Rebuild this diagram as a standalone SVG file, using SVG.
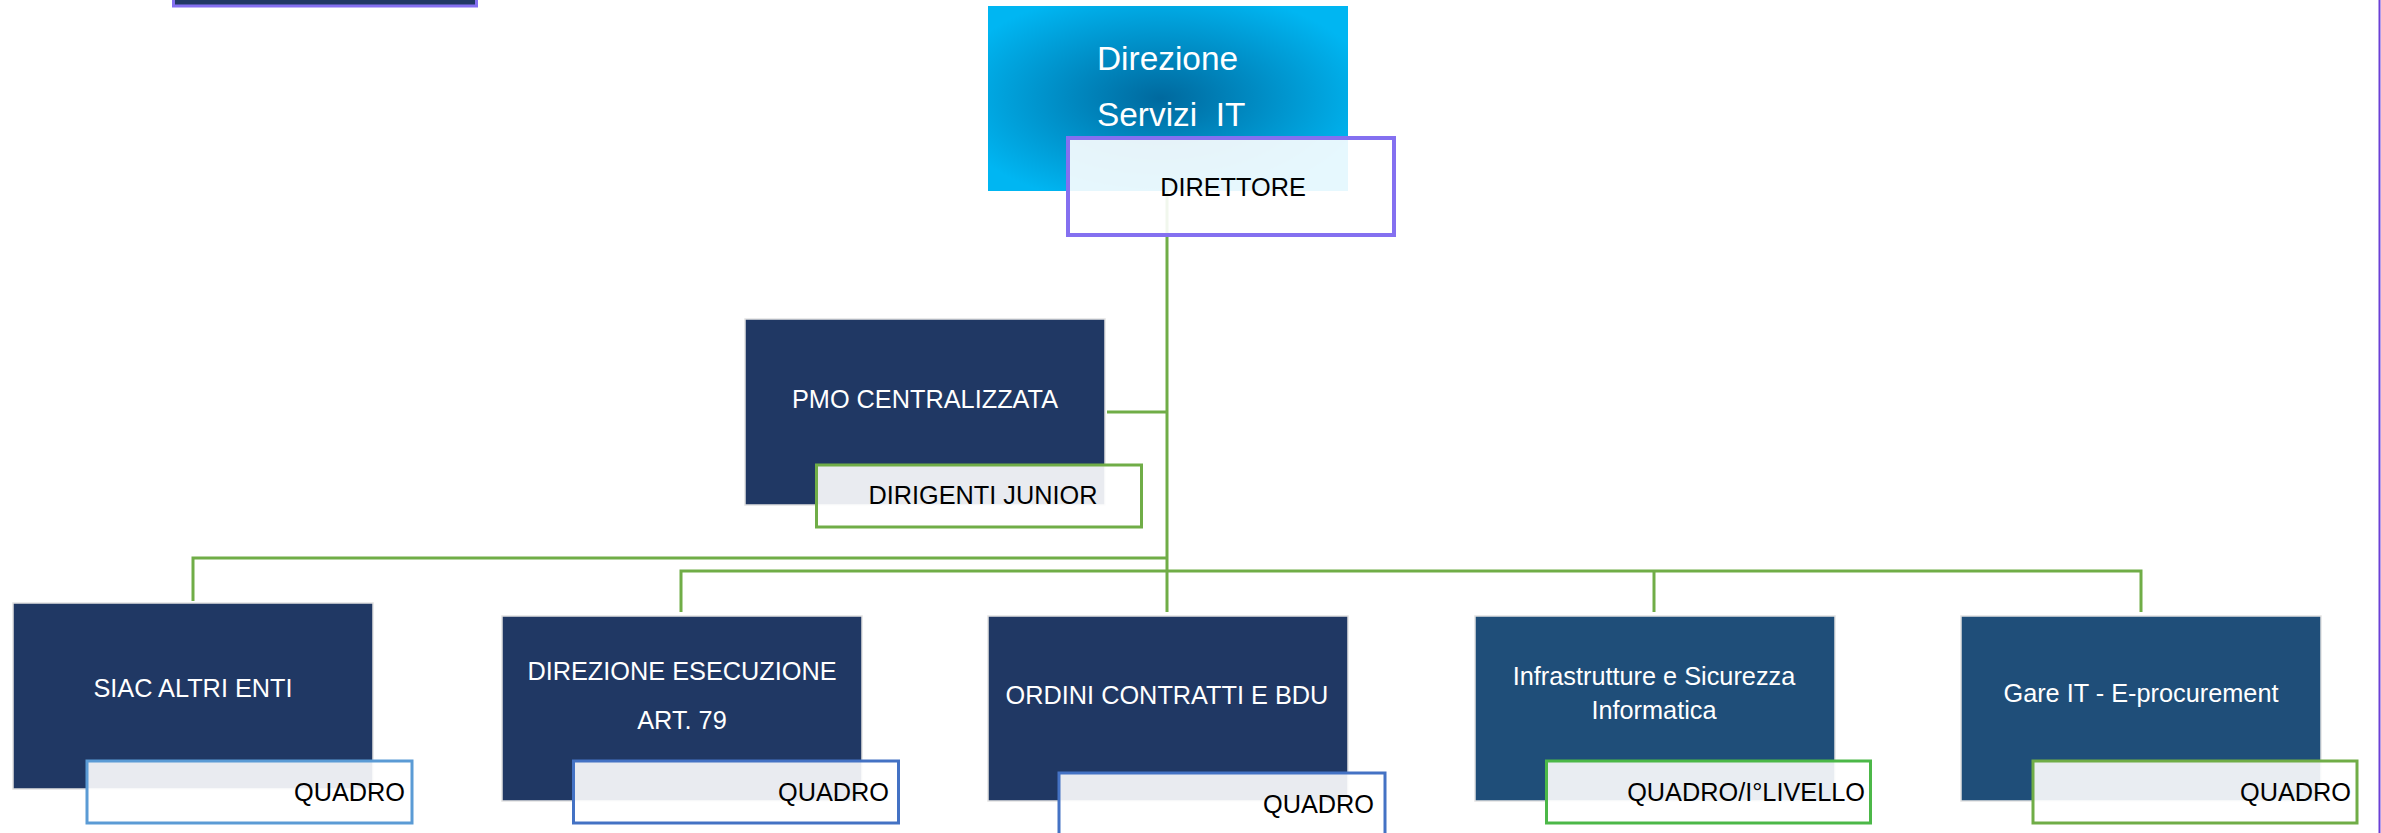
<svg xmlns="http://www.w3.org/2000/svg" width="2381" height="833" viewBox="0 0 2381 833">
<style>
text{font-family:"Liberation Sans",Arial,sans-serif;font-size:25.3px}
.w{fill:#ffffff}
.k{fill:#000000}
.navy{fill:#203864;stroke:#e2e2e2;stroke-width:1.5}
.teal{fill:#1f4e79;stroke:#e2e2e2;stroke-width:1.5}
.tag{fill:#ffffff;fill-opacity:0.9;stroke-width:3}
.conn{fill:none;stroke:#70ad47;stroke-width:3}
</style>
<defs>
<radialGradient id="bg" cx="0.48" cy="0.5" r="0.6">
<stop offset="0" stop-color="#00699e"/>
<stop offset="1" stop-color="#00b6f2"/>
</radialGradient>
</defs>
<rect width="2381" height="833" fill="#ffffff"/>
<g id="topleft">
<rect x="173.5" y="-50" width="303" height="56" fill="#203864" stroke="#8470f0" stroke-width="3"/>
</g>
<line x1="2379.5" y1="0" x2="2379.5" y2="833" stroke="#6b3fd6" stroke-width="2"/>
<g id="connectors">
<path class="conn" d="M1167,191 V612"/>
<path class="conn" d="M1107,412 H1167"/>
<path class="conn" d="M193,601 V558 H1167"/>
<path class="conn" d="M681,612 V571 H2141 V612"/>
<path class="conn" d="M1654,571 V612"/>
</g>
<g id="direzione-servizi-it">
<rect x="988" y="6" width="360" height="185" fill="url(#bg)"/>
<text class="w" x="1097" y="70" style="font-size:33.4px">Direzione</text>
<text class="w" x="1097" y="126" style="font-size:33.4px" xml:space="preserve">Servizi  IT</text>
<rect class="tag" x="1068" y="138" width="326" height="97" stroke="#8470f0" stroke-width="4" style="stroke-width:4"/>
<text class="k" x="1233" y="196" text-anchor="middle">DIRETTORE</text>
</g>
<g id="pmo">
<rect class="navy" x="745" y="319" width="360" height="186"/>
<text class="w" x="925" y="408" text-anchor="middle">PMO CENTRALIZZATA</text>
<rect class="tag" x="816.5" y="465" width="325" height="62" stroke="#70ad47"/>
<text class="k" x="983" y="504" text-anchor="middle">DIRIGENTI JUNIOR</text>
</g>
<g id="siac">
<rect class="navy" x="13" y="603" width="360" height="186"/>
<text class="w" x="193" y="697" text-anchor="middle">SIAC ALTRI ENTI</text>
<rect class="tag" x="87" y="761" width="325" height="62" stroke="#5b9bd5"/>
<text class="k" x="405" y="801" text-anchor="end">QUADRO</text>
</g>
<g id="direzione-esecuzione">
<rect class="navy" x="502" y="616" width="360" height="185"/>
<text class="w" x="682" y="680" text-anchor="middle">DIREZIONE ESECUZIONE</text>
<text class="w" x="682" y="729" text-anchor="middle">ART. 79</text>
<rect class="tag" x="573.5" y="761" width="325" height="62" stroke="#4472c4"/>
<text class="k" x="889" y="801" text-anchor="end">QUADRO</text>
</g>
<g id="ordini">
<rect class="navy" x="988" y="616" width="360" height="185"/>
<text class="w" x="1167" y="704" text-anchor="middle">ORDINI CONTRATTI E BDU</text>
<rect class="tag" x="1059" y="773" width="326" height="70" stroke="#4472c4"/>
<text class="k" x="1374" y="813" text-anchor="end">QUADRO</text>
</g>
<g id="infrastrutture">
<rect class="teal" x="1475" y="616" width="360" height="185"/>
<text class="w" x="1654" y="685" text-anchor="middle">Infrastrutture e Sicurezza</text>
<text class="w" x="1654" y="719" text-anchor="middle">Informatica</text>
<rect class="tag" x="1546.5" y="761" width="324" height="62" stroke="#4cb848"/>
<text class="k" x="1865" y="801" text-anchor="end">QUADRO/I°LIVELLO</text>
</g>
<g id="gare">
<rect class="teal" x="1961" y="616" width="360" height="185"/>
<text class="w" x="2141" y="702" text-anchor="middle">Gare IT - E-procurement</text>
<rect class="tag" x="2033" y="761" width="324" height="62" stroke="#70ad47"/>
<text class="k" x="2351" y="801" text-anchor="end">QUADRO</text>
</g>
</svg>
